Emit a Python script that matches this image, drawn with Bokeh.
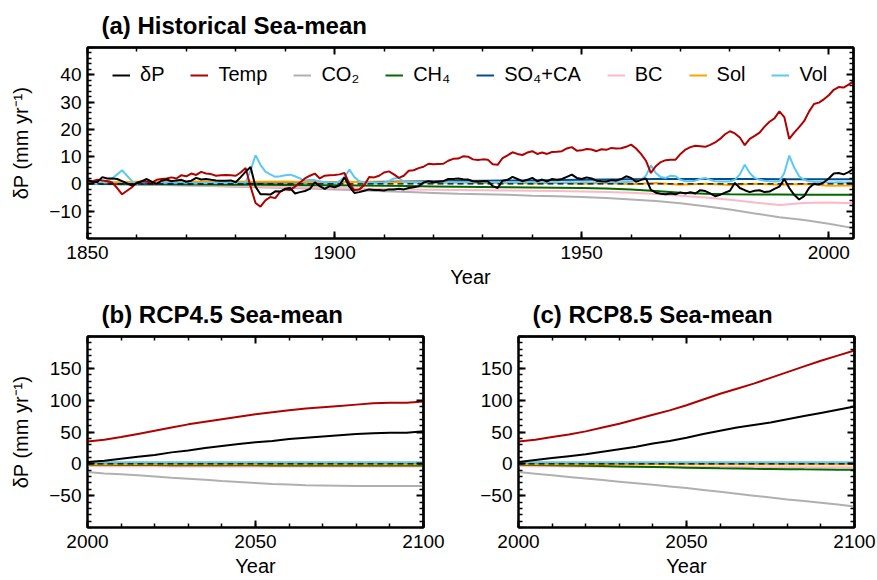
from bokeh.plotting import figure
from bokeh.models import Range1d, FixedTicker, LinearAxis, Legend, LegendItem, Span
from bokeh.layouts import column, row
from bokeh.embed import file_html
from bokeh.resources import INLINE

FONT = "Liberation Sans"

# ---------------- data: historical (annual) ----------------
hist_years = list(range(1850, 2006))

dP_hist = [
    1.5, 0.8, 0.7, 2.5, 2.0, 2.0, 1.8, 1.0, 0.2, -0.6,          # 1850-1859
    0.3, 1.0, 1.8, 0.8, 0.0, 1.2, 1.6, 1.0, 1.3, 1.5,           # 1860-1869
    0.8, 1.2, 2.2, 1.6, 1.8, 1.5, 1.3, 1.2, 1.2, 1.3,           # 1870-1879
    0.6, 2.5, 4.5, 6.2, -1.0, -3.8, -3.8, -3.9, -2.7, -2.8,     # 1880-1889
    -1.8, -1.5, -3.5, -3.0, -2.6, -1.8, 0.6, -0.8, -1.8, -0.8,  # 1890-1899
    -1.2, -0.5, 2.4, -1.0, -3.3, -3.0, -2.5, -2.0, -2.2, -2.2,  # 1900-1909
    -2.4, -2.0, -2.0, -1.8, -2.0, -1.5, -1.2, -0.9, 0.5, 1.0,   # 1910-1919
    0.6, 0.8, 1.0, 1.8, 1.8, 2.0, 1.7, 1.6, 1.0, 0.8,           # 1920-1929
    1.0, 1.0, -0.8, -1.5, 1.2, 1.5, 2.6, 1.8, 1.0, 1.5,         # 1930-1939
    2.2, 1.0, 1.6, 0.9, 1.8, 1.5, 1.8, 2.6, 3.4, 2.2,           # 1940-1949
    1.8, 2.4, 2.0, 1.2, 1.0, 0.9, 1.4, 1.2, 1.8, 2.8,           # 1950-1959
    2.2, 0.8, 1.5, 2.0, -2.2, -3.2, -3.6, -3.8, -3.5, -3.8,     # 1960-1969
    -3.1, -3.5, -3.0, -3.5, -2.3, -2.6, -3.5, -4.5, -4.0, -3.2, # 1970-1979
    -2.5, 0.4, -1.5, -2.3, -3.0, -2.5, -2.3, -3.0, -2.8, -1.8,  # 1980-1989
    -1.0, 1.8, -1.5, -4.0, -5.7, -4.5, -1.5, 0.1, -0.2, 0.6,    # 1990-1999
    2.0, 3.8, 4.0, 3.5, 4.3, 5.5,                               # 2000-2005
]

temp_hist = [
    1.2, 1.0, 1.5, 1.3, 1.0, 0.5, -1.5, -3.8, -2.5, -1.2,       # 1850-1859
    0.5, 1.0, 0.8, 0.5, 1.5, 1.8, 2.0, 2.4, 2.0, 3.2,           # 1860-1869
    2.8, 3.8, 3.3, 4.4, 3.8, 3.6, 3.0, 3.2, 3.3, 3.2,           # 1870-1879
    3.0, 4.2, 5.8, -1.0, -7.0, -8.3, -6.0, -4.8, -5.2, -2.8,    # 1880-1889
    -2.0, -2.2, -1.0, 0.5, 2.0, 3.0, 3.8, 2.0, 3.0, 3.2,        # 1890-1899
    3.3, 3.5, 4.0, 0.0, -2.3, -2.0, -0.5, 2.5, 2.4, 3.0,        # 1900-1909
    4.2, 4.6, 3.5, 2.2, 3.0, 4.8, 5.0, 5.8, 6.3, 7.4,           # 1910-1919
    7.2, 7.3, 7.4, 8.5, 9.2, 9.3, 10.1, 10.0, 9.0, 8.8,         # 1920-1929
    9.0, 8.9, 7.2, 7.0, 9.5, 10.5, 11.6, 11.0, 10.6, 11.5,      # 1930-1939
    12.0, 11.0, 11.5, 11.0, 11.7, 11.8, 12.0, 13.0, 13.5, 12.2, # 1940-1949
    12.3, 12.8, 12.6, 12.0, 12.7, 12.5, 13.2, 13.0, 13.1, 13.6, # 1950-1959
    14.4, 13.0, 11.0, 8.5, 4.0, 6.5, 8.0, 8.7, 8.9, 8.9,        # 1960-1969
    11.0, 12.6, 13.5, 14.0, 13.8, 13.6, 14.3, 15.2, 16.5, 18.2, # 1970-1979
    19.3, 18.5, 17.0, 14.2, 16.5, 17.6, 18.8, 21.0, 22.8, 24.0, # 1980-1989
    26.6, 24.5, 16.5, 18.8, 20.8, 23.0, 26.5, 29.3, 29.8, 31.0, # 1990-1999
    32.5, 34.5, 35.5, 35.3, 36.4, 37.6,                         # 2000-2005
]

vol_hist = [
    0.0, 0.2, 0.0, 0.5, 1.0, 2.0, 3.5, 5.0, 3.0, 1.0,           # 1850-1859
    0.0, 0.3, 1.0, 0.6, 0.2, 0.3, 0.4, 0.4, 0.5, 0.4,           # 1860-1869
    0.4, 0.3, 0.2, 0.3, 0.3, 0.3, 0.3, 0.3, 0.3, 0.4,           # 1870-1879
    0.3, 0.3, 0.5, 5.0, 10.5, 7.0, 4.5, 3.5, 2.6, 2.8,          # 1880-1889
    3.2, 3.4, 2.8, 2.0, 1.3, 1.5, 1.4, 1.0, 0.6, 0.4,           # 1890-1899
    0.3, 1.0, 2.5, 5.3, 2.5, 1.0, 0.5, 0.5, 0.3, 0.3,           # 1900-1909
    0.5, 1.0, 2.0, 2.2, 0.8, 0.4, 0.5, 0.5, 0.6, 0.5,           # 1910-1919
    0.6, 0.6, 0.5, 0.6, 0.6, 0.5, 0.6, 0.6, 0.5, 0.6,           # 1920-1929
    0.6, 0.5, 0.6, 0.6, 0.5, 0.6, 0.6, 0.5, 0.6, 0.6,           # 1930-1939
    0.5, 0.6, 0.6, 0.5, 0.6, 0.6, 0.5, 0.6, 0.6, 0.5,           # 1940-1949
    0.6, 0.6, 0.5, 0.6, 0.6, 0.5, 0.6, 0.6, 0.6, 0.7,           # 1950-1959
    0.8, 1.0, 1.5, 3.0, 6.8, 4.0, 2.5, 2.2, 3.0, 2.8,           # 1960-1969
    1.5, 1.0, 1.0, 1.2, 1.8, 2.2, 1.5, 1.0, 0.9, 0.9,           # 1970-1979
    1.0, 1.5, 3.5, 7.0, 4.0, 2.2, 1.5, 1.2, 1.0, 0.9,           # 1980-1989
    1.0, 4.0, 10.4, 6.0, 2.8, 1.5, 1.0, 0.8, 0.7, 0.6,          # 1990-1999
    0.5, 0.5, 0.6, 0.5, 0.5, 0.5,                               # 2000-2005
]

# smoother historical forcings, read every 5 years
smooth_years = list(range(1850, 2006, 5))
co2_hist = [0.0, -0.1, -0.3, -0.4, -0.6, -0.8, -1.0, -1.2, -1.5, -1.7, -2.0, -2.3, -2.7, -3.0, -3.3, -3.6,
            -3.8, -4.0, -4.3, -4.5, -4.8, -5.2, -5.7, -6.3, -7.1, -8.2, -9.4, -10.8, -12.2, -13.2, -14.6, -16.2]
ch4_hist = [0.0, 0.0, -0.1, -0.1, -0.2, -0.2, -0.3, -0.3, -0.4, -0.5, -0.5, -0.6, -0.7, -0.8, -0.9, -1.0,
            -1.1, -1.2, -1.3, -1.4, -1.5, -1.7, -2.0, -2.6, -3.2, -3.6, -3.8, -3.9, -3.9, -4.0, -4.0, -4.0]
so4_hist = [0.0, 0.1, 0.1, 0.2, 0.2, 0.3, 0.3, 0.4, 0.5, 0.5, 0.6, 0.7, 0.8, 0.9, 1.0, 1.1,
            1.2, 1.3, 1.3, 1.4, 1.5, 1.6, 1.7, 1.8, 1.8, 1.8, 1.8, 1.8, 1.7, 1.7, 1.7, 1.7]
bc_hist = [0.0, -0.1, -0.2, -0.3, -0.5, -0.6, -0.8, -0.9, -1.1, -1.3, -1.5, -1.7, -1.8, -2.0, -2.1, -2.2,
           -2.3, -2.4, -2.5, -2.6, -2.8, -3.0, -3.2, -3.7, -4.3, -5.0, -5.8, -6.8, -7.7, -7.0, -6.8, -7.1]
sol_hist = [0.3, 0.6, 0.8, 0.7, 1.0, 0.8, 0.9, 0.8, 0.9, 0.7, 0.6, 0.8, 0.5, 0.7, 0.4, 0.6,
            0.3, 0.5, 0.2, 0.4, 0.1, 0.3, -0.1, 0.3, -0.3, 0.1, -0.4, 0.1, -0.3, 0.0, -0.7, -0.6]

# ---------------- data: scenarios (every 5 years) ----------------
fut_years = list(range(2000, 2101, 5))

rcp45_dP = [3, 5, 8, 11, 14, 18, 21, 25, 28, 31, 34, 36, 39, 41, 43, 45, 47, 48, 49, 49, 51]
rcp45_temp = [35, 38, 42, 47, 52, 57, 62, 66, 70, 74, 78, 81, 84, 87, 89, 91, 93, 95, 96, 96, 98]
rcp45_co2 = [-13, -15, -16.5, -18, -20, -22, -23.5, -25, -27, -28.5, -30, -31.5, -32.5, -33.5, -34,
             -34.5, -35, -35, -35, -35, -35]
rcp45_ch4 = [-1.5, -1.6, -1.8, -1.9, -2.0, -2.1, -2.2, -2.3, -2.3, -2.4, -2.4, -2.5, -2.5, -2.5, -2.5,
             -2.5, -2.5, -2.5, -2.5, -2.5, -2.5]
rcp45_so4 = [1.6, 1.6, 1.5, 1.5, 1.4, 1.4, 1.3, 1.3, 1.2, 1.2, 1.2, 1.1, 1.1, 1.1, 1.0, 1.0, 1.0, 1.0,
             1.0, 1.0, 1.0]
rcp45_bc = [-3.5, -3.6, -3.7, -3.8, -3.9, -4.0, -4.0, -4.1, -4.1, -4.2, -4.2, -4.2, -4.3, -4.3, -4.3,
            -4.3, -4.3, -4.3, -4.3, -4.3, -4.3]
rcp45_sol = [-0.7, -0.6, -0.8, -0.7, -0.8, -0.8, -0.8, -0.8, -0.8, -0.8, -0.8, -0.8, -0.8, -0.8, -0.8,
             -0.8, -0.8, -0.8, -0.8, -0.8, -0.8]
rcp45_vol = [2.6, 2.5, 2.5, 2.5, 2.5, 2.5, 2.5, 2.5, 2.5, 2.5, 2.5, 2.5, 2.5, 2.5, 2.5, 2.5, 2.5, 2.5,
             2.5, 2.5, 2.5]

rcp85_dP = [3, 6, 9, 12, 15, 19, 23, 27, 32, 36, 41, 47, 52, 57, 61, 65, 70, 75, 80, 85, 90]
rcp85_temp = [35, 38, 42, 46, 51, 57, 63, 70, 77, 84, 92, 101, 110, 118, 126, 135, 144, 153, 162, 170, 178]
rcp85_co2 = [-13, -15.5, -18, -20.5, -23, -25.5, -28, -30.5, -33, -35.5, -38, -41, -44, -47, -50, -53,
             -56, -58.5, -61, -64, -67]
rcp85_ch4 = [-1.5, -1.8, -2.2, -2.6, -3.0, -3.5, -4.0, -4.5, -5.0, -5.5, -6.0, -6.5, -7.0, -7.4, -7.8,
             -8.1, -8.4, -8.7, -8.9, -9.1, -9.3]
rcp85_so4 = [1.6, 1.6, 1.5, 1.5, 1.4, 1.4, 1.3, 1.3, 1.2, 1.2, 1.2, 1.1, 1.1, 1.1, 1.0, 1.0, 1.0, 1.0,
             1.0, 1.0, 1.0]
rcp85_bc = [-3.5, -3.7, -3.9, -4.1, -4.3, -4.5, -4.6, -4.7, -4.8, -4.9, -5.0, -5.0, -5.1, -5.1, -5.2,
            -5.2, -5.2, -5.3, -5.3, -5.3, -5.3]
rcp85_sol = [-0.7, -0.6, -0.8, -0.7, -0.8, -0.8, -0.8, -0.8, -0.8, -0.8, -0.8, -0.8, -0.8, -0.8, -0.8,
             -0.8, -0.8, -0.8, -0.8, -0.8, -0.8]
rcp85_vol = [2.6, 2.5, 2.5, 2.5, 2.5, 2.5, 2.5, 2.5, 2.5, 2.5, 2.5, 2.5, 2.5, 2.5, 2.5, 2.5, 2.5, 2.5,
             2.5, 2.5, 2.5]

legend_labels = ["δP", "Temp", "CO₂", "CH₄", "SO₄+CA", "BC", "Sol", "Vol"]
colors = {
    "δP": "#000000", "Temp": "#b00000", "CO₂": "#b0b0b0", "CH₄": "#006a00",
    "SO₄+CA": "#00508f", "BC": "#ffb6c8", "Sol": "#ffa500", "Vol": "#5cc8f5",
}

hist_xticks = [1850, 1900, 1950, 2000]
hist_xminor = list(range(1850, 2006, 10))
hist_yticks = [-10, 0, 10, 20, 30, 40]
hist_yminor = list(range(-20, 51, 2))
fut_xticks = [2000, 2050, 2100]
fut_xminor = list(range(2000, 2101, 10))
fut_yticks = [-50, 0, 50, 100, 150]
fut_yminor = list(range(-100, 201, 10))


def make_fig(width, height, left, right, top, bottom, xr, yr, title):
    p = figure(width=width, height=height, x_range=Range1d(*xr), y_range=Range1d(*yr),
               output_backend="svg", toolbar_location=None,
               min_border_left=left, min_border_right=right,
               min_border_top=top, min_border_bottom=bottom,
               background_fill_color="white", border_fill_color="white",
               outline_line_color="black", outline_line_width=2)
    p.grid.visible = False
    p.title.text = title
    p.title.text_font = FONT
    p.title.text_font_size = "24px"
    p.title.text_font_style = "bold"
    p.title.text_color = "black"
    p.title.align = "left"
    p.title.offset = 14
    p.title.standoff = 17
    return p


def style_axis(ax):
    ax.axis_line_color = "black"
    ax.axis_line_width = 2
    ax.major_tick_line_color = "black"
    ax.major_tick_line_width = 2
    ax.minor_tick_line_color = "black"
    ax.minor_tick_line_width = 1.5
    ax.major_tick_in = 7
    ax.major_tick_out = 0
    ax.minor_tick_in = 4
    ax.minor_tick_out = 0


def mirror_axis(p, side, positions, length):
    # label-free mirror axis: every tick is a "minor" tick, so no tick texts exist
    ax = LinearAxis(ticker=FixedTicker(ticks=[], minor_ticks=positions))
    ax.axis_line_color = "black"
    ax.axis_line_width = 2
    ax.minor_tick_line_color = "black"
    ax.minor_tick_line_width = 2 if length > 5 else 1.5
    ax.minor_tick_in = length
    ax.minor_tick_out = 0
    ax.major_tick_in = 0
    ax.major_tick_out = 0
    ax.major_label_standoff = 0
    ax.axis_label_standoff = 0
    p.add_layout(ax, side)


def setup_axes(p, xt, xm, yt, ym, ylabel):
    xa = p.xaxis[0]
    ya = p.yaxis[0]
    xa.ticker = FixedTicker(ticks=xt, minor_ticks=xm)
    ya.ticker = FixedTicker(ticks=yt, minor_ticks=ym)
    for ax in (xa, ya):
        style_axis(ax)
        ax.major_label_text_font = FONT
        ax.major_label_text_font_size = "19px"
        ax.major_label_text_color = "black"
        ax.axis_label_text_font = FONT
        ax.axis_label_text_font_size = "20px"
        ax.axis_label_text_font_style = "normal"
        ax.axis_label_text_color = "black"
    xa.axis_label = "Year"
    xa.major_label_standoff = 7
    xa.axis_label_standoff = 4
    ya.major_label_standoff = 6
    if ylabel:
        ya.axis_label = ylabel
        ya.axis_label_standoff = 14
    mirror_axis(p, "above", xt, 7)
    mirror_axis(p, "above", [v for v in xm if v not in xt], 4)
    mirror_axis(p, "right", yt, 7)
    mirror_axis(p, "right", [v for v in ym if v not in yt], 4)


def draw_series(p, xs_main, series_main, xs_smooth, series_smooth):
    rends = {}
    for lab in ["CO₂", "BC", "CH₄", "SO₄+CA", "Sol"]:
        rends[lab] = p.line(xs_smooth, series_smooth[lab], line_color=colors[lab], line_width=2)
    p.add_layout(Span(location=0, dimension="width", line_color="black", line_width=1.3,
                      line_dash="6 4"))
    for lab in ["Vol", "Temp", "δP"]:
        rends[lab] = p.line(xs_main, series_main[lab], line_color=colors[lab], line_width=2)
    return rends


# ---------------- panel (a) ----------------
pa = make_fig(877, 290, 87, 24, 47, 52, (1850, 2005), (-20, 50), "(a) Historical Sea-mean")
setup_axes(pa, hist_xticks, hist_xminor, hist_yticks, hist_yminor, "δP (mm yr⁻¹)")
rend_a = draw_series(
    pa, hist_years, {"Vol": vol_hist, "Temp": temp_hist, "δP": dP_hist},
    smooth_years, {"CO₂": co2_hist, "BC": bc_hist, "CH₄": ch4_hist, "SO₄+CA": so4_hist, "Sol": sol_hist})

legend = Legend(items=[LegendItem(label=lab, renderers=[rend_a[lab]]) for lab in legend_labels],
                orientation="horizontal", location=(25, 152),
                label_text_font=FONT, label_text_font_size="20px", label_text_color="black",
                glyph_width=18, glyph_height=20, label_height=20, label_standoff=10, spacing=26,
                padding=0, margin=0, border_line_alpha=0, background_fill_alpha=0)
pa.add_layout(legend)

# ---------------- panel (b) ----------------
pb = make_fig(446, 290, 87, 23, 44, 53, (2000, 2100), (-100, 200), "(b) RCP4.5 Sea-mean")
setup_axes(pb, fut_xticks, fut_xminor, fut_yticks, fut_yminor, "δP (mm yr⁻¹)")
draw_series(pb, fut_years, {"Vol": rcp45_vol, "Temp": rcp45_temp, "δP": rcp45_dP},
            fut_years, {"CO₂": rcp45_co2, "BC": rcp45_bc, "CH₄": rcp45_ch4, "SO₄+CA": rcp45_so4,
                        "Sol": rcp45_sol})

# ---------------- panel (c) ----------------
pc = make_fig(431, 290, 72, 23, 44, 53, (2000, 2100), (-100, 200), "(c) RCP8.5 Sea-mean")
setup_axes(pc, fut_xticks, fut_xminor, fut_yticks, fut_yminor, None)
draw_series(pc, fut_years, {"Vol": rcp85_vol, "Temp": rcp85_temp, "δP": rcp85_dP},
            fut_years, {"CO₂": rcp85_co2, "BC": rcp85_bc, "CH₄": rcp85_ch4, "SO₄+CA": rcp85_so4,
                        "Sol": rcp85_sol})

layout = column(pa, row(pb, pc, spacing=0), spacing=0)
open("out.html", "w").write(file_html(layout, INLINE))
